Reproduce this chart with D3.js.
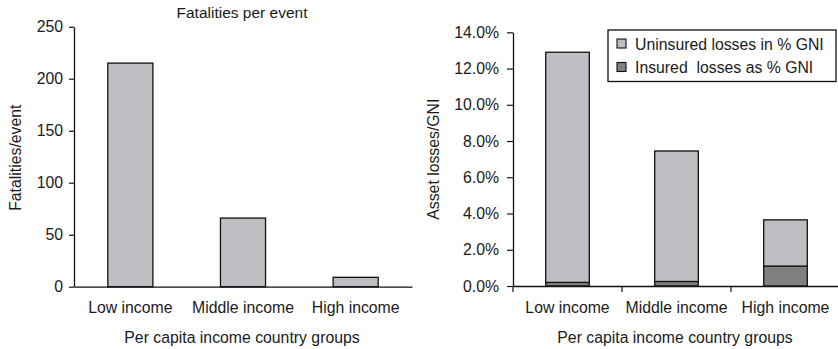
<!DOCTYPE html>
<html>
<head>
<meta charset="utf-8">
<script src="https://cdn.jsdelivr.net/npm/d3@7"></script>
<style>
  html, body { margin: 0; padding: 0; background: #fff; }
  svg text { font-family: "Liberation Sans", Arial, sans-serif; fill: #1a1a1a; white-space: pre; }
</style>
</head>
<body>
<svg id="chart" width="838" height="349"></svg>
<script>
// Income groups shared by both panels
const categories = ["Low income", "Middle income", "High income"];
// Left panel: fatalities per event
const fatalities = [215, 66, 9];
const fatalityTicks = [0, 50, 100, 150, 200, 250];
// Right panel: asset losses as % of GNI, stacked
const insured = [0.2, 0.25, 1.1];
const uninsured = [12.7, 7.2, 2.55];
const lossTicks = [0, 2, 4, 6, 8, 10, 12, 14];
const seriesNames = ["Uninsured losses in % GNI", "Insured  losses as % GNI"];

const lightFill = "#bfbfc3";
const darkFill = "#808083";
const svg = d3.select("#chart");
const fontSize = 15.8;
const fontFamily = "Liberation Sans, Arial, sans-serif";

// ---------- Left panel ----------
{
  const x0 = 74, x1 = 412, yTop = 26.7, yBot = 286.7;
  const x = d3.scaleBand().domain(categories).range([x0, x1]).paddingInner(0.6).paddingOuter(0.3);
  const y = d3.scaleLinear().domain([0, 250]).range([yBot, yTop]);
  const g = svg.append("g");

  g.selectAll("rect.bar").data(fatalities).join("rect")
    .attr("class", "bar")
    .attr("x", (d, i) => x(categories[i]))
    .attr("width", x.bandwidth())
    .attr("y", d => y(d))
    .attr("height", d => y(0) - y(d))
    .attr("fill", lightFill).attr("stroke", "#111").attr("stroke-width", 1.3);

  const yAxis = g.append("g").attr("transform", `translate(${x0},0)`)
    .call(d3.axisLeft(y).tickValues(fatalityTicks).tickSize(5).tickPadding(6).tickSizeOuter(0));
  yAxis.select(".domain").attr("stroke", "#111").attr("stroke-width", 1.3);
  yAxis.selectAll(".tick line").attr("stroke", "#111").attr("stroke-width", 1.2);
  yAxis.selectAll("text").attr("font-size", fontSize).attr("font-family", fontFamily);

  const xAxis = g.append("g").attr("transform", `translate(0,${yBot})`)
    .call(d3.axisBottom(x).tickSize(0).tickPadding(15).tickSizeOuter(0));
  xAxis.select(".domain").attr("stroke", "#111").attr("stroke-width", 1.3);
  xAxis.selectAll("text").attr("font-size", fontSize).attr("font-family", fontFamily);

  g.append("text").attr("x", 242).attr("y", 18).attr("text-anchor", "middle")
    .attr("font-size", 15.5).text("Fatalities per event");
  g.append("text").attr("transform", `translate(21,${(yTop + yBot) / 2 + 1}) rotate(-90)`)
    .attr("text-anchor", "middle").attr("font-size", fontSize).text("Fatalities/event");
  g.append("text").attr("x", 242).attr("y", 343).attr("text-anchor", "middle")
    .attr("font-size", fontSize).text("Per capita income country groups");
}

// ---------- Right panel ----------
{
  const x0 = 513, x1 = 840, yTop = 32.3, yBot = 286;
  const x = d3.scaleBand().domain(categories).range([x0, x1]).paddingInner(0.6).paddingOuter(0.3);
  const y = d3.scaleLinear().domain([0, 14]).range([yBot, yTop]);
  const g = svg.append("g");

  const rows = categories.map((c, i) => ({ cat: c, insured: insured[i], uninsured: uninsured[i] }));
  const stack = d3.stack().keys(["insured", "uninsured"])(rows);
  const fills = { insured: darkFill, uninsured: lightFill };

  g.selectAll("g.layer").data(stack).join("g")
    .attr("class", "layer")
    .attr("fill", d => fills[d.key])
    .selectAll("rect").data(d => d).join("rect")
    .attr("x", d => x(d.data.cat))
    .attr("width", x.bandwidth())
    .attr("y", d => y(d[1]))
    .attr("height", d => y(d[0]) - y(d[1]))
    .attr("stroke", "#111").attr("stroke-width", 1.3);

  const yAxis = g.append("g").attr("transform", `translate(${x0},0)`)
    .call(d3.axisLeft(y).tickValues(lossTicks).tickSize(6).tickPadding(8).tickSizeOuter(0)
      .tickFormat(d => d.toFixed(1) + "%"));
  yAxis.select(".domain").attr("stroke", "#111").attr("stroke-width", 1.3);
  yAxis.selectAll(".tick line").attr("stroke", "#111").attr("stroke-width", 1.2);
  yAxis.selectAll("text").attr("font-size", fontSize).attr("font-family", fontFamily);

  const xAxis = g.append("g").attr("transform", `translate(0,${yBot})`)
    .call(d3.axisBottom(x).tickSize(0).tickPadding(16).tickSizeOuter(0));
  xAxis.select(".domain").attr("stroke", "#111").attr("stroke-width", 1.3);
  xAxis.selectAll("text").attr("font-size", fontSize).attr("font-family", fontFamily);
  // Category boundary ticks below the axis
  const step = x.step();
  xAxis.selectAll("line.sep").data(d3.range(3)).join("line")
    .attr("class", "sep")
    .attr("x1", i => x0 + i * step).attr("x2", i => x0 + i * step)
    .attr("y1", 0).attr("y2", 6)
    .attr("stroke", "#111").attr("stroke-width", 1.2);

  g.append("text").attr("transform", `translate(439,${(yTop + yBot) / 2}) rotate(-90)`)
    .attr("text-anchor", "middle").attr("font-size", fontSize).text("Asset losses/GNI");
  g.append("text").attr("x", 675).attr("y", 343).attr("text-anchor", "middle")
    .attr("font-size", fontSize).text("Per capita income country groups");

  // Legend
  const lg = g.append("g");
  lg.append("rect").attr("x", 608).attr("y", 30).attr("width", 228).attr("height", 51.5)
    .attr("fill", "#fff").attr("stroke", "#111").attr("stroke-width", 1.3);
  const legendFills = [lightFill, darkFill];
  seriesNames.forEach((name, i) => {
    const cy = 44 + i * 23.5;
    lg.append("rect").attr("x", 617).attr("y", cy - 5).attr("width", 9).attr("height", 9)
      .attr("fill", legendFills[i]).attr("stroke", "#111").attr("stroke-width", 1.1);
    lg.append("text").attr("x", 635).attr("y", cy + 5.5).attr("font-size", fontSize).text(name);
  });
}
</script>
</body>
</html>
